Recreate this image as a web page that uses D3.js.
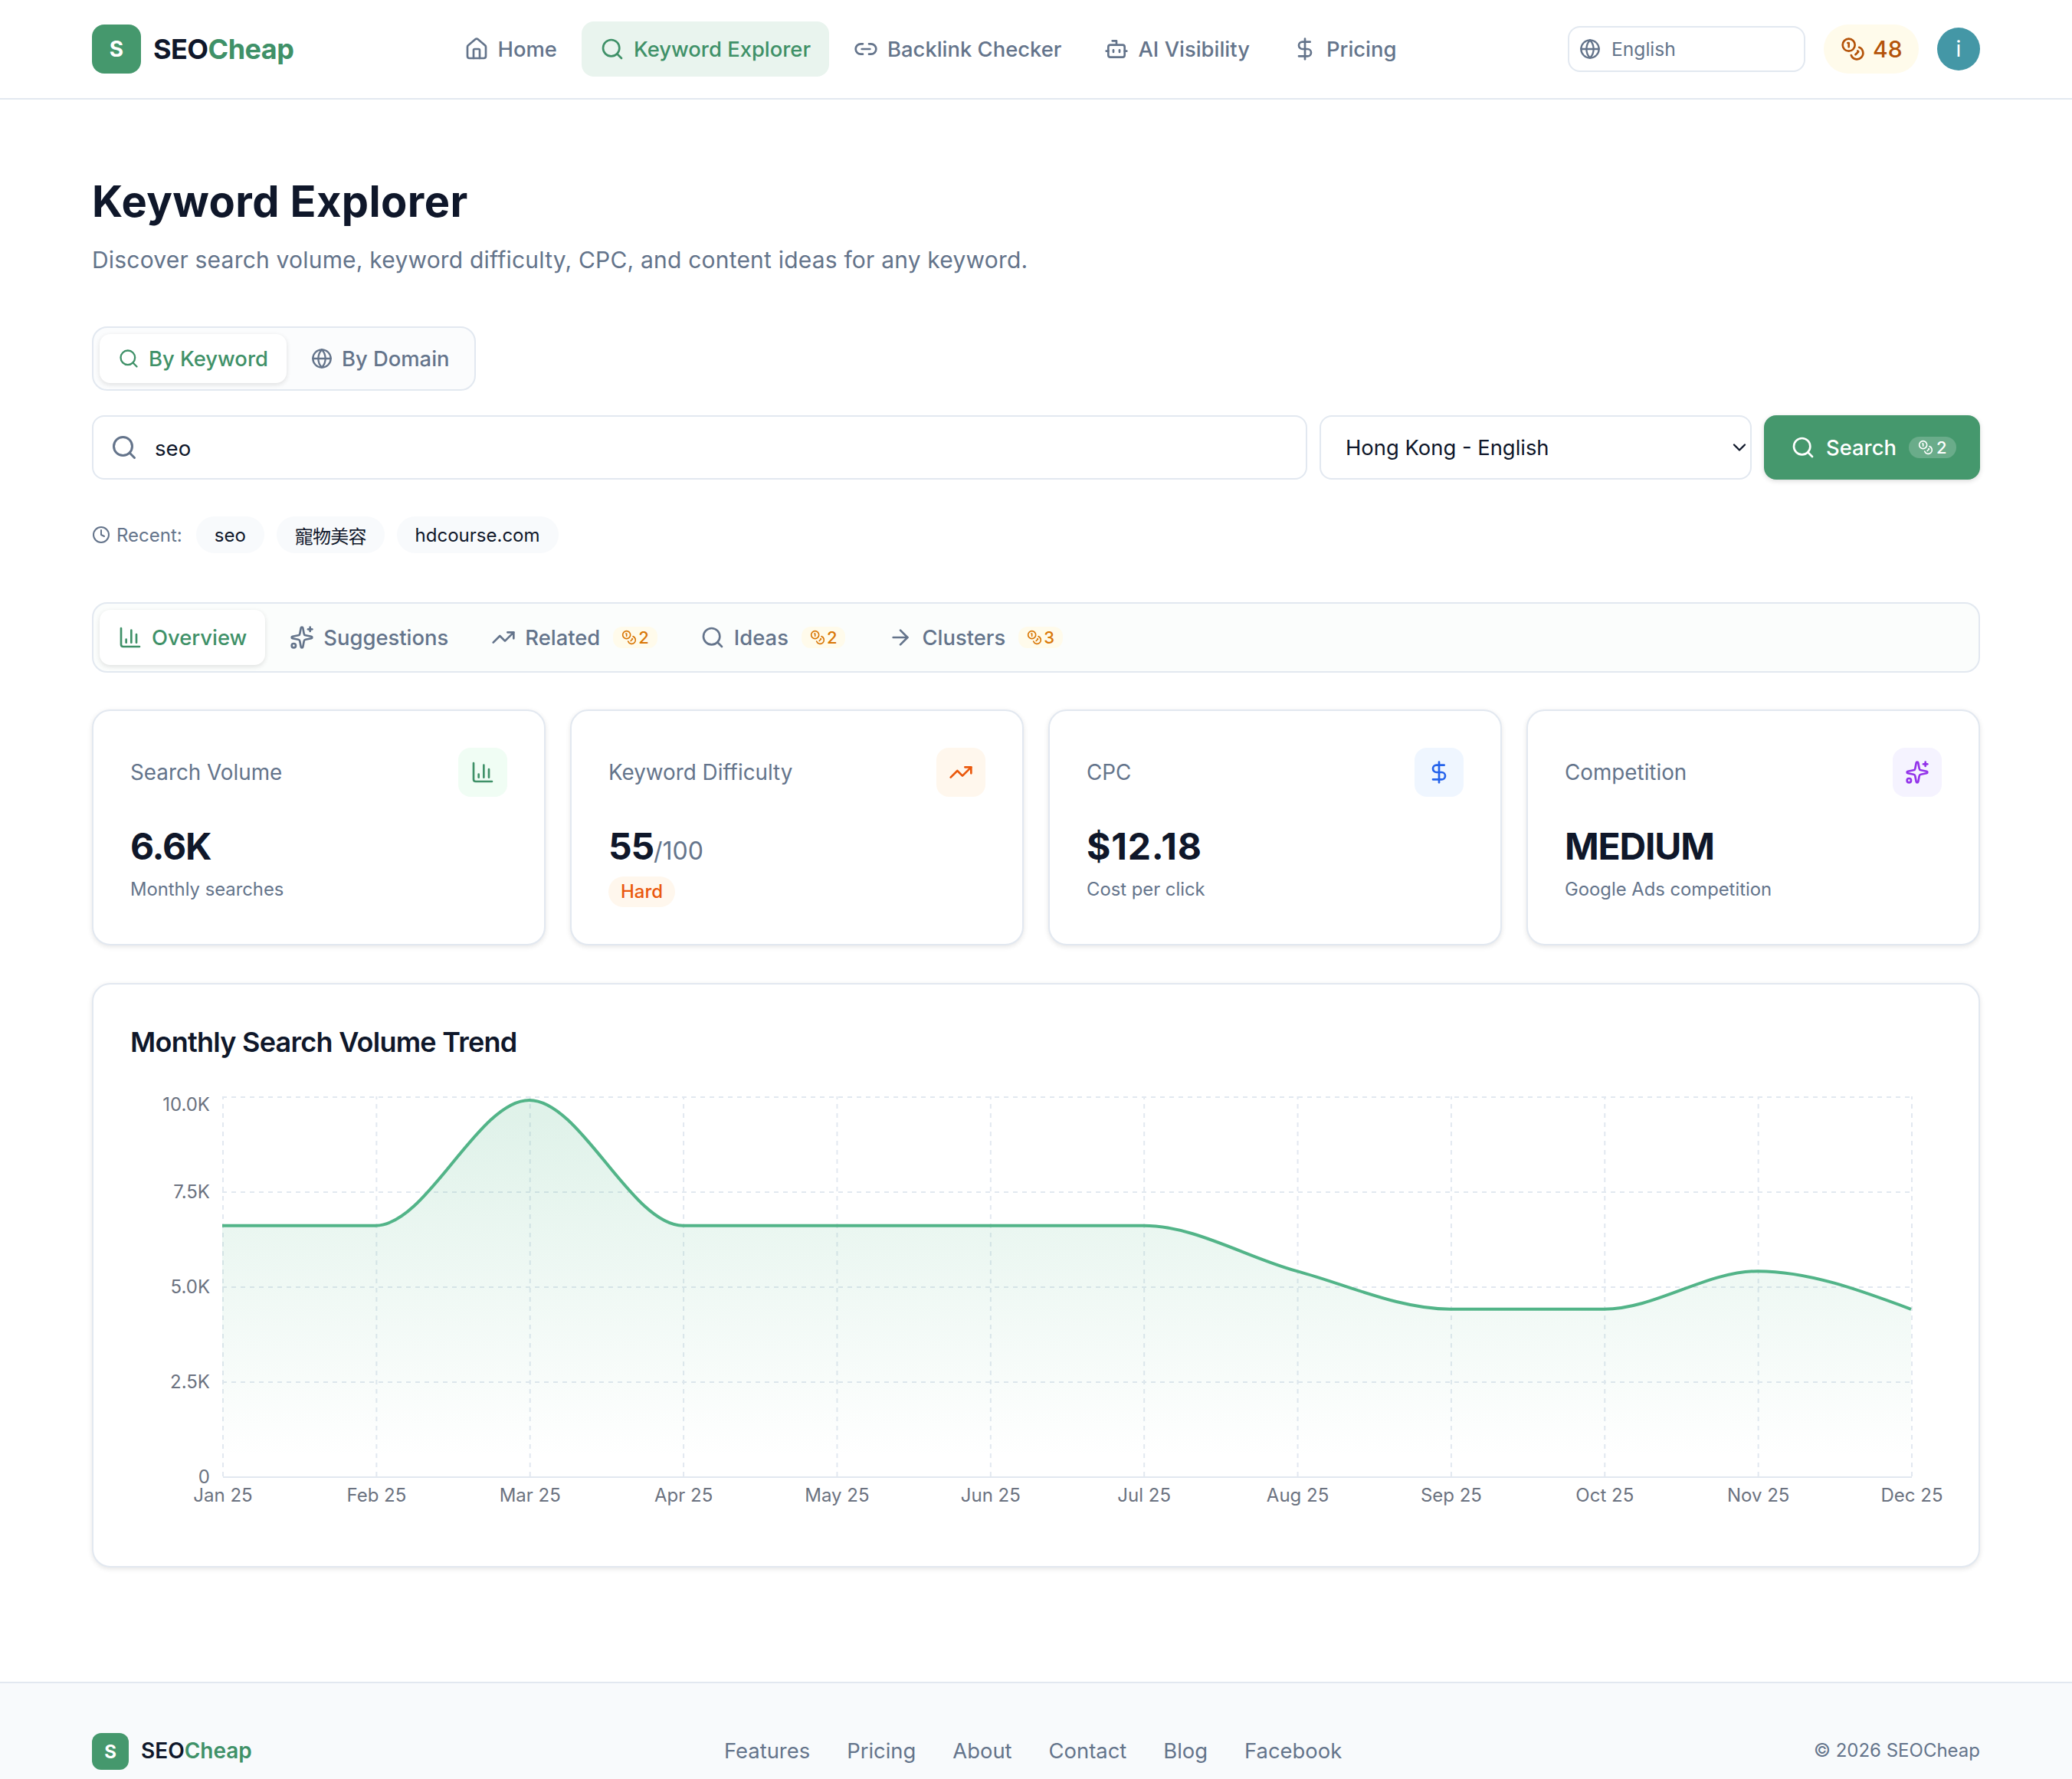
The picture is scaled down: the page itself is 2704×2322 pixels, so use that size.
<!DOCTYPE html>
<html>
<head>
<meta charset="utf-8">
<script src="https://cdnjs.cloudflare.com/ajax/libs/d3/7.8.5/d3.min.js"></script>
<style>
html{zoom:2}
*{box-sizing:border-box}
body{margin:0;width:1352px;height:1161px;overflow:hidden;background:#fff;position:relative;color:#0f172a;
  font-family:Inter,"Noto Sans CJK TC",sans-serif;font-size:13.7px}
.abs{position:absolute}
.row{display:flex;align-items:center}
svg.ic{fill:none;stroke:currentColor;stroke-width:2;stroke-linecap:round;stroke-linejoin:round;flex:none;display:block}
.header{left:0;top:0;width:1352px;height:65px;border-bottom:1px solid #e2e8f0}
.logo{width:32px;height:32px;border-radius:8px;background:#45986d;color:#fff;font-weight:700;font-size:14px;justify-content:center}
.brand{font-weight:700;font-size:18px;letter-spacing:-.015em}
.brand b,.fbrand b{font-weight:inherit;color:#3f9168}
.nav{left:290.8px;top:14px;gap:4px}
.nav .it{height:36px;padding:0 12px;gap:6px;border-radius:8px;color:#64748b;font-weight:500}
.nav .on{background:#e9f4ee;color:#3f9168}
.lang{left:1023px;top:17px;width:155px;height:30px;border:1px solid #e2e8f0;border-radius:8px;padding-left:6.5px;gap:7px;font-size:12.3px;color:#64748b}
.credit{left:1190px;top:16px;width:62px;height:32px;border-radius:16px;background:#fffbeb;color:#b45309;font-weight:500;font-size:15px;padding-left:11px;gap:5px}
.avatar{left:1264px;top:18px;width:28px;height:28px;border-radius:50%;background:#4497a6;color:#fff;justify-content:center;font-size:14px}
h1{margin:0;left:60px;top:111.5px;font-size:28px;font-weight:700;line-height:40px;letter-spacing:.2px;white-space:nowrap}
.sub{left:60px;top:157.5px;font-size:15px;line-height:24px;letter-spacing:.1px;color:#64748b;white-space:nowrap}
.mode{left:60px;top:213px;height:42px;border:1px solid #e2e8f0;border-radius:10px;background:#fbfcfd;padding:4px;gap:4px}
.mode .it{height:32px;padding:0 12px;gap:6px;border-radius:7px;color:#64748b;font-weight:500;font-size:13.7px}
.on-w{background:#fff;box-shadow:0 1px 3px rgba(0,0,0,.12);color:#3f9168!important}
.input{left:60px;top:271px;width:793px;height:42px;border:1px solid #e2e8f0;border-radius:8px;color:#64748b}
.input span{position:absolute;left:40px;top:10.5px;line-height:20px;color:#0f172a;font-size:13.8px}
.select{left:861px;top:271px;width:282px;height:42px;border:1px solid #e2e8f0;border-radius:8px;padding-left:16px;justify-content:space-between;padding-right:0}
.btn{left:1151px;top:271px;width:141px;height:42px;border-radius:8px;background:#45986d;color:#fff;font-weight:500;padding-left:17.5px;gap:7px;box-shadow:0 1px 3px rgba(0,0,0,.14)}
.bdg-w{height:14px;padding:0 6px;gap:2px;border-radius:7px;background:rgba(255,255,255,.2);font-size:11px;margin-left:1px}
.recent{left:60px;top:337px;height:24px;font-size:12px;color:#64748b}
.recent .l{gap:4px;margin-right:9px}
.recent .p{height:24px;padding:0 12px;border-radius:12px;background:#f8fafc;color:#0f172a;margin-right:8px}
.tabs{left:60px;top:393px;width:1232px;height:46px;border:1px solid #e2e8f0;border-radius:10px;background:#fbfdfc;padding:4px;gap:4px}
.tabs .it{height:36px;padding:0 12px;gap:6px;border-radius:7px;color:#64748b;font-weight:500}
.bdg{height:14px;padding:0 5.5px;gap:1px;border-radius:6px;background:#fffbeb;color:#d97706;font-size:11px;margin-left:2.5px}
.card{top:463px;width:296px;height:154px;border:1px solid #e2e8f0;border-radius:12px;background:#fff;box-shadow:0 1px 3px rgba(0,0,0,.1)}
.card .t{position:absolute;left:24px;top:30px;line-height:20px;color:#64748b;font-size:13.9px}
.card .i{position:absolute;right:24px;top:24px;width:32px;height:32px;border-radius:8px;justify-content:center}
.card .v{position:absolute;left:24px;top:70.5px;font-size:24px;font-weight:700;line-height:36px;white-space:nowrap;letter-spacing:-.6px}
.card .v small{font-size:16px;font-weight:400;color:#64748b;letter-spacing:0}
.card .s{position:absolute;left:24px;top:106.5px;font-size:11.9px;line-height:20px;color:#64748b}
.card .h{position:absolute;left:24px;top:108px;height:20px;padding:0 8px;border-radius:10px;background:#fff7ed;color:#ea580c;font-size:12px;font-weight:500;line-height:20px}
.chart{left:60px;top:641.5px;width:1232px;height:381.5px;border:1px solid #e2e8f0;border-radius:12px;background:#fff;box-shadow:0 1px 3px rgba(0,0,0,.1)}
.chart h3{position:absolute;left:24px;top:23.5px;margin:0;font-size:18px;font-weight:600;line-height:28px;white-space:nowrap;letter-spacing:-.37px}
#trend{position:absolute;left:24px;top:62px;display:block;overflow:visible}
.foot{left:0;top:1097.5px;width:1352px;height:64px;background:#f8fafc;border-top:1px solid #e2e8f0}
.flogo{left:60px;top:32.5px;width:24px;height:24px;border-radius:6px;background:#45986d;color:#fff;font-size:12px;font-weight:700;justify-content:center}
.fbrand{left:92px;top:34px;font-size:14px;font-weight:600;line-height:20px}
.flinks{left:472.5px;top:34px;gap:24px;line-height:20px;color:#64748b}
.copy{right:60px;top:35px;font-size:12px;line-height:18px;color:#64748b}
</style>
</head>
<body>
<script>
// chart values
var months = ["Jan 25","Feb 25","Mar 25","Apr 25","May 25","Jun 25","Jul 25","Aug 25","Sep 25","Oct 25","Nov 25","Dec 25"];
var volumes = [6600,6600,9900,6600,6600,6600,6600,5400,4400,4400,5400,4400];
var yTicks = [0,2500,5000,7500,10000];
var yLabels = ["0","2.5K","5.0K","7.5K","10.0K"];

// page texts
var navLabels = ["Home","Keyword Explorer","Backlink Checker","AI Visibility","Pricing"];
var navIcons = ["house","search","link","bot","dollar"];
var modeLabels = ["By Keyword","By Domain"];
var modeIcons = ["search","globe"];
var recentLabels = ["seo","寵物美容","hdcourse.com"];
var tabLabels = ["Overview","Suggestions","Related","Ideas","Clusters"];
var tabIcons = ["chart","sparkles","trending","search","arrow"];
var tabCosts = [null,null,2,2,3];
var cardTitles = ["Search Volume","Keyword Difficulty","CPC","Competition"];
var cardValues = ["6.6K","55","$12.18","MEDIUM"];
var cardSubs = ["Monthly searches",null,"Cost per click","Google Ads competition"];
var cardIcons = ["chart","trending","dollar","sparkles"];
var cardTints = ["#f0fdf4","#fff7ed","#eff6ff","#f5f3ff"];
var cardInks = ["#3f9168","#ea580c","#2563eb","#9333ea"];
var footLinks = ["Features","Pricing","About","Contact","Blog","Facebook"];

var iconShapes = {
    house:["M15 21v-8a1 1 0 0 0-1-1h-4a1 1 0 0 0-1 1v8","M3 10a2 2 0 0 1 .709-1.528l7-5.999a2 2 0 0 1 2.582 0l7 5.999A2 2 0 0 1 21 10v9a2 2 0 0 1-2 2H5a2 2 0 0 1-2-2z"],
    search:["M19 11a8 8 0 1 1-16 0 8 8 0 0 1 16 0","m21 21-4.3-4.3"],
    link:["M9 17H7A5 5 0 0 1 7 7h2","M15 7h2a5 5 0 1 1 0 10h-2","M8 12h8"],
    bot:["M12 8V4H8","M6 8h12a2 2 0 0 1 2 2v8a2 2 0 0 1-2 2H6a2 2 0 0 1-2-2v-8a2 2 0 0 1 2-2","M2 14h2","M20 14h2","M15 13v2","M9 13v2"],
    dollar:["M12 2v20","M17 5H9.5a3.5 3.5 0 0 0 0 7h5a3.5 3.5 0 0 1 0 7H6"],
    globe:["M22 12a10 10 0 1 1-20 0 10 10 0 0 1 20 0","M12 2a14.5 14.5 0 0 0 0 20 14.5 14.5 0 0 0 0-20","M2 12h20"],
    coins:["M14 8a6 6 0 1 1-12 0 6 6 0 0 1 12 0","M18.09 10.37A6 6 0 1 1 10.34 18","M7 6h1v4","m16.71 13.88.7.71-2.82 2.82"],
    clock:["M22 12a10 10 0 1 1-20 0 10 10 0 0 1 20 0","M12 6v6l4 2"],
    chart:["M3 3v16a2 2 0 0 0 2 2h16","M18 17V9","M13 17V5","M8 17v-3"],
    sparkles:["M11.017 2.814a1 1 0 0 1 1.966 0l1.051 5.558a2 2 0 0 0 1.594 1.594l5.558 1.051a1 1 0 0 1 0 1.966l-5.558 1.051a2 2 0 0 0-1.594 1.594l-1.051 5.558a1 1 0 0 1-1.966 0l-1.051-5.558a2 2 0 0 0-1.594-1.594l-5.558-1.051a1 1 0 0 1 0-1.966l5.558-1.051a2 2 0 0 0 1.594-1.594z","M20 2v4","M22 4h-4","M6 20a2 2 0 1 1-4 0 2 2 0 0 1 4 0"],
    trending:["M16 7h6v6","m22 7-8.5 8.5-5-5L2 17"],
    arrow:["M5 12h14","m12 5 7 7-7 7"],
    chevron:["m6 9 6 6 6-6"]
};

function icon(parent,name,size){
    var s = parent.append("svg").attr("class","ic").attr("viewBox","0 0 24 24").attr("width",size).attr("height",size);
    iconShapes[name].forEach(function(d){ s.append("path").attr("d",d); });
    return s;
}
function box(parent,cls,txt){
    var d = parent.append("div").attr("class",cls);
    if(txt!==undefined) d.text(txt);
    return d;
}

var body = d3.select("body");

// header
var header = box(body,"abs header");
box(header,"abs row logo","S").style("left","60px").style("top","16px");
var brand = box(header,"abs brand").style("left","100px").style("top","21px").style("line-height","22px");
brand.append("span").text("SEO");
brand.append("b").text("Cheap");
var nav = box(header,"abs row nav");
navLabels.forEach(function(t,i){
    var it = box(nav,"row it"+(i==1?" on":""));
    icon(it,navIcons[i],16);
    it.append("span").text(t);
});
var lang = box(header,"abs row lang");
icon(lang,"globe",14);
lang.append("span").text("English");
var credit = box(header,"abs row credit");
icon(credit,"coins",16);
credit.append("span").text("48");
box(header,"abs row avatar","i");

// heading
body.append("h1").attr("class","abs").text("Keyword Explorer");
box(body,"abs sub","Discover search volume, keyword difficulty, CPC, and content ideas for any keyword.");

// search mode
var mode = box(body,"abs row mode");
modeLabels.forEach(function(t,i){
    var it = box(mode,"row it"+(i==0?" on-w":""));
    icon(it,modeIcons[i],14);
    it.append("span").text(t);
});

// search bar
var input = box(body,"abs input");
icon(input,"search",18).style("position","absolute").style("left","11px").style("top","11px");
input.append("span").text("seo");
var select = box(body,"abs row select");
select.append("span").text("Hong Kong - English");
icon(select,"chevron",14);
var btn = box(body,"abs row btn");
icon(btn,"search",16);
btn.append("span").text("Search");
var bw = box(btn,"row bdg-w");
icon(bw,"coins",10);
bw.append("span").text("2");

// recent
var recent = box(body,"abs row recent");
var rl = box(recent,"row l");
icon(rl,"clock",12);
rl.append("span").text("Recent:");
recentLabels.forEach(function(t,i){
    box(recent,"row p",t).style("letter-spacing",i==1?"-.4px":null);
});

// tabs
var tabs = box(body,"abs row tabs");
tabLabels.forEach(function(t,i){
    var it = box(tabs,"row it"+(i==0?" on-w":""));
    icon(it,tabIcons[i],16);
    it.append("span").text(t);
    if(tabCosts[i]!=null){
        var b = box(it,"row bdg");
        icon(b,"coins",10);
        b.append("span").text(tabCosts[i]);
    }
});

// stat cards
cardTitles.forEach(function(t,i){
    var c = box(body,"abs card").style("left",(60+i*312)+"px");
    box(c,"t",t);
    var ib = box(c,"row i").style("background",cardTints[i]).style("color",cardInks[i]);
    icon(ib,cardIcons[i],16);
    var v = box(c,"v",cardValues[i]).style("letter-spacing",i==2?".4px":null);
    if(cardSubs[i]) box(c,"s",cardSubs[i]);
    else {
        v.append("small").text("/100");
        box(c,"h","Hard");
    }
});

// trend chart
var chartCard = box(body,"abs chart");
chartCard.append("h3").text("Monthly Search Volume Trend");

var margin = {top:11,right:20,bottom:30,left:60};
var w = 1182, h = 290;
var iw = 1102, ih = 248;

var x = d3.scalePoint().domain(months).range([0,iw]);
var y = d3.scaleLinear().domain([0,10000]).range([ih,0]);

var svg = chartCard.append("svg").attr("id","trend").attr("width",w).attr("height",h)
    .style("font-family","Inter,sans-serif");
var grad = svg.append("defs").append("linearGradient").attr("id","fade")
    .attr("x1",0).attr("y1",0).attr("x2",0).attr("y2",1);
grad.append("stop").attr("offset","5%").attr("stop-color","#52b788").attr("stop-opacity",.18);
grad.append("stop").attr("offset","95%").attr("stop-color","#52b788").attr("stop-opacity",0);

var g = svg.append("g").attr("transform","translate("+margin.left+","+margin.top+")");

// dashed grid, taken from the axes with empty labels
var gridY = g.append("g").call(d3.axisLeft(y).tickValues(yTicks.slice(1)).tickSize(-iw).tickFormat(""));
var gridX = g.append("g").attr("transform","translate(0,"+ih+")").call(d3.axisBottom(x).tickSize(-ih).tickFormat(""));
[gridY,gridX].forEach(function(a){
    a.select(".domain").remove();
    a.selectAll("line").attr("stroke","#e2e8f0").attr("stroke-dasharray","3 3");
});

var area = d3.area().x(function(d,i){return x(months[i])}).y0(ih).y1(function(d){return y(d)}).curve(d3.curveMonotoneX);
var line = d3.line().x(function(d,i){return x(months[i])}).y(function(d){return y(d)}).curve(d3.curveMonotoneX);
g.append("path").datum(volumes).attr("d",area).attr("fill","url(#fade)");
g.append("path").datum(volumes).attr("d",line).attr("fill","none").attr("stroke","#52b488").attr("stroke-width",2);

var xAxis = g.append("g").attr("transform","translate(0,"+ih+")").call(d3.axisBottom(x).tickSize(0).tickPadding(8));
xAxis.select(".domain").attr("stroke","#e2e8f0");
var yAxis = g.append("g").call(d3.axisLeft(y).tickValues(yTicks).tickSize(0).tickPadding(8)
    .tickFormat(function(d){return yLabels[yTicks.indexOf(d)]}));
yAxis.select(".domain").remove();
[xAxis,yAxis].forEach(function(a){
    a.selectAll("text").attr("fill","#6b7280").style("font-size","12px").style("font-family","Inter,sans-serif");
});
// the top label sits lower than its grid line
yAxis.selectAll(".tick").filter(function(d){return d==10000}).select("text").attr("dy","0.75em");

// footer
var foot = box(body,"abs foot");
box(foot,"abs row flogo","S");
var fb = box(foot,"abs fbrand");
fb.append("span").text("SEO");
fb.append("b").text("Cheap");
var fl = box(foot,"abs row flinks");
footLinks.forEach(function(t){ fl.append("span").text(t); });
box(foot,"abs copy","© 2026 SEOCheap");
</script>
</body>
</html>
